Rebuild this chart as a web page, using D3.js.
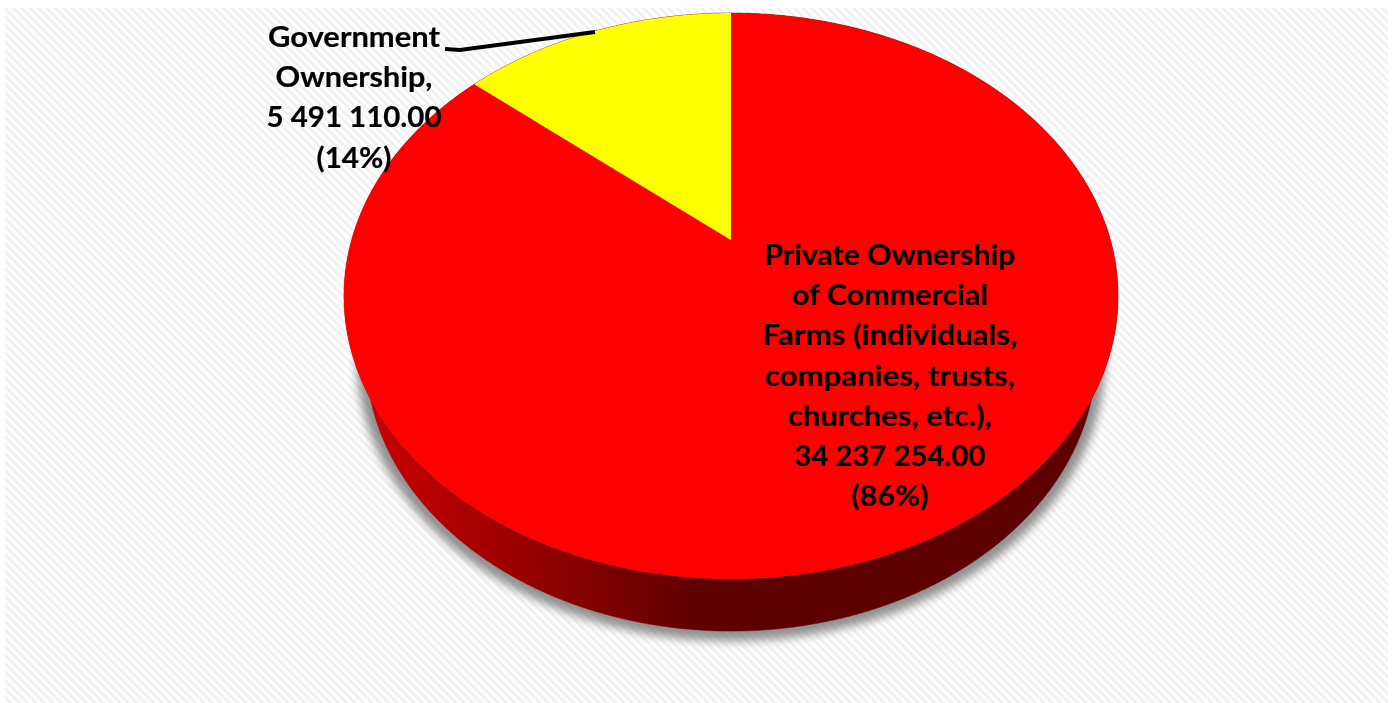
<!DOCTYPE html>
<html><head><meta charset="utf-8">
<script src="https://cdnjs.cloudflare.com/ajax/libs/d3/7.9.0/d3.min.js"></script>
<style>html,body{margin:0;padding:0;background:#fff}svg{display:block}</style>
</head><body><svg id="c" width="1397" height="703"></svg>
<script>
const categories = ["Private Ownership of Commercial Farms (individuals, companies, trusts, churches, etc.)", "Government Ownership"];
const values = [34237254, 5491110];
const valueLabels = ["34 237 254.00", "5 491 110.00"];
const percentLabels = ["(86%)", "(14%)"];
const faceColors = ["#ff0000", "#ffff00"];
const wallStops = [[0, "#cc0000"], [0.15, "#a80000"], [0.33, "#7c0000"], [0.46, "#5e0000"], [1, "#5c0000"]];
const labelLines = [
  ["Private Ownership", "of Commercial", "Farms (individuals,", "companies, trusts,", "churches, etc.),"],
  ["Government", "Ownership,"]
];

const svg = d3.select("#c");
const defs = svg.append("defs");

const stripes = defs.append("linearGradient").attr("id", "stripes").attr("gradientUnits", "userSpaceOnUse")
  .attr("x1", 0).attr("y1", 0).attr("x2", 4.2).attr("y2", -4.2).attr("spreadMethod", "repeat");
[[0, "#ffffff"], [0.25, "#ffffff"], [0.6, "#eeeeee"], [1, "#ffffff"]].forEach(s => stripes.append("stop").attr("offset", s[0]).attr("stop-color", s[1]));

const wallGrad = defs.append("linearGradient").attr("id", "wall").attr("gradientUnits", "userSpaceOnUse")
  .attr("x1", 365).attr("y1", 0).attr("x2", 1100).attr("y2", 0);
wallStops.forEach(s => wallGrad.append("stop").attr("offset", s[0]).attr("stop-color", s[1]));

const blur = defs.append("filter").attr("id", "shadowBlur").attr("x", "-10%").attr("y", "-10%").attr("width", "120%").attr("height", "120%");
blur.append("feGaussianBlur").attr("stdDeviation", 5);
const soft = defs.append("filter").attr("id", "soft").attr("x", "-5%").attr("y", "-5%").attr("width", "110%").attr("height", "110%");
soft.append("feGaussianBlur").attr("stdDeviation", 0.35);

svg.append("rect").attr("x", 5).attr("y", 8).attr("width", 1383).attr("height", 695).attr("fill", "url(#stripes)");

// Perspective view of the pie disc: maps the unit circle onto the screen.
const cx = 731, cy = 296, apexY = 240, k = 379.4, a = 224.4, c = -0.1979;
function project(angle) {
  const u = Math.sin(angle), v = -Math.cos(angle), d = c * v + 1;
  return [cx + k * u / d, (a * v + apexY) / d];
}
// Lower rim of the disc is a little smaller and lies further down the screen.
const rimScaleX = 0.943, rimScaleY = 0.972, rimDrop = 60;
function projectRim(angle) {
  const p = project(angle);
  return [cx + (p[0] - cx) * rimScaleX, cy + (p[1] - cy) * rimScaleY + rimDrop];
}
// Cast shadow: the rim, slightly enlarged and nudged downward.
function projectShadow(angle) {
  const p = projectRim(angle), shadowGrow = 1.025, shadowDrop = 3, shadowMidY = cy + rimDrop;
  return [cx + (p[0] - cx) * shadowGrow, shadowMidY + (p[1] - shadowMidY) * shadowGrow + shadowDrop];
}

const pie = d3.pie().sort(null).value(d => d)(values);
const line = d3.line();
const arcAngles = d => d3.range(d.startAngle, d.endAngle, 0.005).concat([d.endAngle]);

svg.append("g").attr("filter", "url(#shadowBlur)").selectAll("path").data(pie).join("path")
  .attr("d", d => line([[cx, cy + rimDrop]].concat(arcAngles(d).map(projectShadow))) + "Z")
  .attr("fill", "#777").attr("fill-opacity", 0.8);

const disc = svg.append("g");
disc.selectAll("path.wall").data(pie).join("path").attr("class", "wall")
  .attr("d", d => {
    const ang = arcAngles(d);
    return line(ang.map(project).concat(ang.slice().reverse().map(projectRim))) + "Z";
  })
  .attr("fill", "url(#wall)").attr("stroke", "url(#wall)").attr("stroke-width", 0.5);
disc.selectAll("path.face").data(pie).join("path").attr("class", "face")
  .attr("d", d => line([[cx, apexY]].concat(arcAngles(d).map(project))) + "Z")
  .attr("fill", (d, i) => faceColors[i]);

const textG = svg.append("g").attr("filter", "url(#soft)")
  .attr("font-family", "Lato, 'Open Sans', sans-serif").attr("font-weight", 700)
  .attr("fill", "#000").attr("stroke", "#000").attr("stroke-width", 0.2).attr("text-anchor", "middle");

const layout = [
  {x: 890, y: 265, size: 29, lh: 40.2, widths: [251, 196, 255, 250, 204, 191, 77]},
  {x: 354, y: 47, size: 29, lh: 40.2, widths: [172, 157, 175, 75]}
];
pie.forEach((d, i) => {
  const L = layout[i];
  const g = textG.append("g").attr("transform", `translate(${L.x},${L.y})`).attr("font-size", L.size);
  labelLines[i].concat([valueLabels[i], percentLabels[i]]).forEach((t, j) => {
    g.append("text").attr("y", j * L.lh).attr("textLength", L.widths[j]).attr("lengthAdjust", "spacingAndGlyphs").text(t);
  });
});

svg.append("path").attr("d", line([[445, 49], [460, 50], [595, 32]]))
  .attr("fill", "none").attr("stroke", "#000").attr("stroke-width", 4);
</script></body></html>
